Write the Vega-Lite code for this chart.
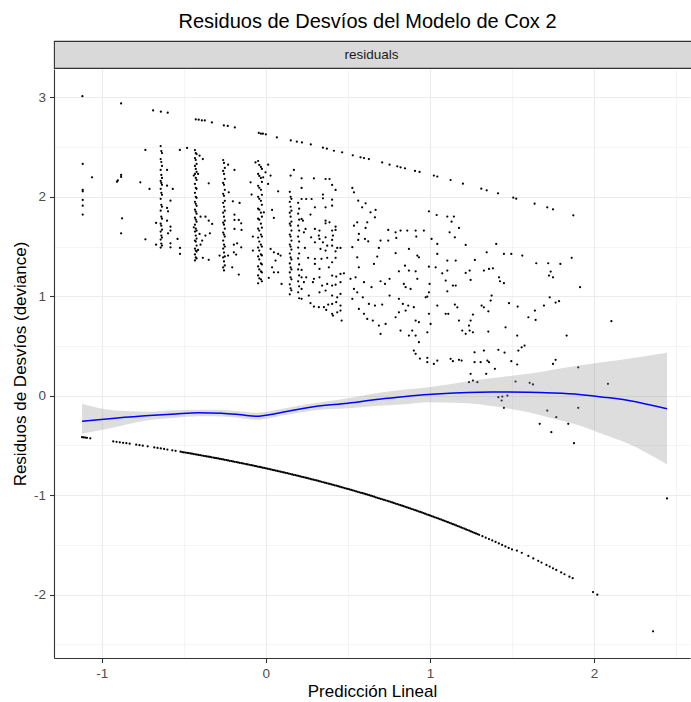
{
  "$schema": "https://vega.github.io/schema/vega-lite/v6.json",
  "padding": {"left": 11, "top": 12, "right": 0, "bottom": 0},
  "title": {"text": "Residuos de Desvíos del Modelo de Cox 2", "fontSize": 20, "fontWeight": "normal", "color": "#000000", "anchor": "middle", "offset": 8, "dx": 15},
  "spacing": 0,
  "datasets": {
    "pts": [
      {"x":-1.118,"y":3.012},{"x":-0.882,"y":2.939},{"x":-0.687,"y":2.869},{"x":-0.640,"y":2.856},{"x":-0.598,"y":2.846},{"x":-0.427,"y":2.778},{"x":-0.409,"y":2.775},{"x":-0.390,"y":2.768},{"x":-0.372,"y":2.768},{"x":-0.329,"y":2.748},{"x":-0.256,"y":2.718},{"x":-0.232,"y":2.712},{"x":-0.189,"y":2.698},{"x":-0.043,"y":2.642},{"x":-0.030,"y":2.635},{"x":-0.018,"y":2.635},{"x":0.0,"y":2.628},{"x":0.067,"y":2.597},{"x":0.152,"y":2.567},{"x":0.189,"y":2.554},{"x":0.220,"y":2.547},{"x":0.274,"y":2.527},{"x":0.348,"y":2.494},{"x":0.372,"y":2.484},{"x":0.415,"y":2.463},{"x":0.465,"y":2.447},{"x":0.530,"y":2.417},{"x":0.577,"y":2.397},{"x":0.598,"y":2.390},{"x":0.628,"y":2.380},{"x":0.709,"y":2.346},{"x":0.754,"y":2.323},{"x":0.801,"y":2.306},{"x":0.821,"y":2.296},{"x":0.848,"y":2.286},{"x":0.909,"y":2.260},{"x":0.937,"y":2.250},{"x":1.024,"y":2.213},{"x":1.045,"y":2.203},{"x":1.126,"y":2.169},{"x":1.201,"y":2.132},{"x":1.313,"y":2.082},{"x":1.346,"y":2.065},{"x":1.415,"y":2.035},{"x":1.508,"y":1.991},{"x":1.526,"y":1.981},{"x":1.638,"y":1.931},{"x":1.715,"y":1.894},{"x":1.750,"y":1.874},{"x":1.874,"y":1.814},
      {"x":-1.116,"y":2.33},{"x":-1.059,"y":2.196},{"x":-1.116,"y":2.069},{"x":-1.116,"y":2.055},{"x":-1.116,"y":1.968},{"x":-1.116,"y":1.911},{"x":-1.116,"y":1.821},
      {"x":-0.907,"y":2.152},{"x":-0.902,"y":2.165},{"x":-0.882,"y":2.22},{"x":-0.882,"y":2.2},{"x":-0.876,"y":1.784},{"x":-0.882,"y":1.633},
      {"x":-0.734,"y":2.471},{"x":-0.765,"y":2.146},{"x":-0.709,"y":2.079},{"x":-0.734,"y":1.573},{"x":-0.669,"y":1.519},{"x":-0.669,"y":1.737},
      {"x":-0.641,"y":2.51},{"x":-0.637,"y":2.46},{"x":-0.633,"y":2.44},{"x":-0.641,"y":2.38},{"x":-0.637,"y":2.35},{"x":-0.633,"y":2.31},{"x":-0.641,"y":2.27},{"x":-0.637,"y":2.22},{"x":-0.633,"y":2.19},{"x":-0.641,"y":2.16},{"x":-0.637,"y":2.14},{"x":-0.633,"y":2.12},{"x":-0.641,"y":2.08},{"x":-0.637,"y":2.04},{"x":-0.633,"y":2.02},{"x":-0.641,"y":1.98},{"x":-0.637,"y":1.92},{"x":-0.633,"y":1.90},{"x":-0.641,"y":1.86},{"x":-0.637,"y":1.80},{"x":-0.633,"y":1.78},{"x":-0.641,"y":1.73},{"x":-0.637,"y":1.71},{"x":-0.633,"y":1.67},{"x":-0.641,"y":1.65},{"x":-0.637,"y":1.61},{"x":-0.633,"y":1.59},{"x":-0.641,"y":1.57},{"x":-0.637,"y":1.53},{"x":-0.633,"y":1.51},{"x":-0.641,"y":1.49},
      {"x":-0.602,"y":2.27},{"x":-0.602,"y":2.112},{"x":-0.581,"y":1.961},{"x":-0.602,"y":1.888},{"x":-0.596,"y":1.854},{"x":-0.602,"y":1.76},{"x":-0.581,"y":1.70},{"x":-0.581,"y":1.66},{"x":-0.596,"y":1.633},{"x":-0.581,"y":1.532},{"x":-0.581,"y":1.492},{"x":-0.567,"y":2.079},{"x":-0.538,"y":1.577},{"x":-0.523,"y":1.486},{"x":-0.523,"y":1.426},{"x":-0.524,"y":2.471},{"x":-0.480,"y":2.491},
      {"x":-0.432,"y":2.47},{"x":-0.427,"y":2.44},{"x":-0.422,"y":2.43},{"x":-0.432,"y":2.39},{"x":-0.427,"y":2.37},{"x":-0.422,"y":2.33},{"x":-0.432,"y":2.31},{"x":-0.427,"y":2.28},{"x":-0.422,"y":2.25},{"x":-0.432,"y":2.23},{"x":-0.427,"y":2.19},{"x":-0.422,"y":2.17},{"x":-0.432,"y":2.13},{"x":-0.427,"y":2.09},{"x":-0.422,"y":2.08},{"x":-0.432,"y":2.04},{"x":-0.427,"y":2.00},{"x":-0.422,"y":1.99},{"x":-0.432,"y":1.95},{"x":-0.427,"y":1.93},{"x":-0.422,"y":1.91},{"x":-0.432,"y":1.87},{"x":-0.427,"y":1.85},{"x":-0.422,"y":1.83},{"x":-0.432,"y":1.79},{"x":-0.427,"y":1.77},{"x":-0.422,"y":1.75},{"x":-0.432,"y":1.72},{"x":-0.427,"y":1.68},{"x":-0.422,"y":1.66},{"x":-0.432,"y":1.65},{"x":-0.427,"y":1.61},{"x":-0.422,"y":1.58},{"x":-0.432,"y":1.56},{"x":-0.427,"y":1.55},{"x":-0.422,"y":1.51},{"x":-0.432,"y":1.48},{"x":-0.427,"y":1.46},{"x":-0.422,"y":1.45},{"x":-0.432,"y":1.42},{"x":-0.427,"y":1.39},{"x":-0.422,"y":1.38},{"x":-0.432,"y":1.36},
      {"x":-0.404,"y":2.414},{"x":-0.384,"y":2.38},{"x":-0.439,"y":2.213},{"x":-0.413,"y":2.23},{"x":-0.439,"y":1.693},{"x":-0.398,"y":1.80},{"x":-0.368,"y":1.80},{"x":-0.348,"y":1.76},{"x":-0.327,"y":1.727},{"x":-0.341,"y":1.633},{"x":-0.368,"y":1.61},{"x":-0.388,"y":1.56},{"x":-0.398,"y":1.519},{"x":-0.413,"y":1.466},{"x":-0.384,"y":1.386},{"x":-0.348,"y":1.366},{"x":-0.348,"y":2.136},{"x":-0.404,"y":1.627},
      {"x":-0.260,"y":2.37},{"x":-0.255,"y":2.34},{"x":-0.250,"y":2.29},{"x":-0.260,"y":2.26},{"x":-0.255,"y":2.23},{"x":-0.250,"y":2.18},{"x":-0.260,"y":2.14},{"x":-0.255,"y":2.12},{"x":-0.250,"y":2.07},{"x":-0.260,"y":2.03},{"x":-0.255,"y":2.01},{"x":-0.250,"y":1.96},{"x":-0.260,"y":1.94},{"x":-0.255,"y":1.90},{"x":-0.250,"y":1.86},{"x":-0.260,"y":1.84},{"x":-0.255,"y":1.80},{"x":-0.250,"y":1.76},{"x":-0.260,"y":1.74},{"x":-0.255,"y":1.72},{"x":-0.250,"y":1.68},{"x":-0.260,"y":1.64},{"x":-0.255,"y":1.62},{"x":-0.250,"y":1.60},{"x":-0.260,"y":1.56},{"x":-0.255,"y":1.52},{"x":-0.250,"y":1.50},{"x":-0.260,"y":1.48},{"x":-0.255,"y":1.44},{"x":-0.250,"y":1.40},{"x":-0.260,"y":1.39},{"x":-0.255,"y":1.35},{"x":-0.250,"y":1.31},{"x":-0.260,"y":1.29},{"x":-0.255,"y":1.26},
      {"x":-0.230,"y":2.323},{"x":-0.191,"y":2.27},{"x":-0.226,"y":2.045},{"x":-0.201,"y":1.955},{"x":-0.160,"y":1.938},{"x":-0.191,"y":1.82},{"x":-0.191,"y":1.767},{"x":-0.191,"y":1.677},{"x":-0.165,"y":1.767},{"x":-0.150,"y":1.733},{"x":-0.148,"y":1.667},{"x":-0.150,"y":1.492},{"x":-0.175,"y":1.532},{"x":-0.195,"y":1.519},{"x":-0.195,"y":1.442},{"x":-0.181,"y":1.419},{"x":-0.205,"y":1.291},{"x":-0.165,"y":1.218},{"x":-0.282,"y":1.409},{"x":-0.230,"y":1.409},
      {"x":-0.047,"y":2.36},{"x":-0.040,"y":2.32},{"x":-0.030,"y":2.30},{"x":-0.024,"y":2.28},{"x":-0.047,"y":2.23},{"x":-0.040,"y":2.21},{"x":-0.030,"y":2.19},{"x":-0.024,"y":2.15},{"x":-0.047,"y":2.11},{"x":-0.040,"y":2.09},{"x":-0.030,"y":2.07},{"x":-0.024,"y":2.02},{"x":-0.047,"y":2.00},{"x":-0.040,"y":1.98},{"x":-0.030,"y":1.96},{"x":-0.024,"y":1.92},{"x":-0.047,"y":1.88},{"x":-0.040,"y":1.87},{"x":-0.030,"y":1.84},{"x":-0.024,"y":1.80},{"x":-0.047,"y":1.78},{"x":-0.040,"y":1.77},{"x":-0.030,"y":1.73},{"x":-0.024,"y":1.69},{"x":-0.047,"y":1.68},{"x":-0.040,"y":1.66},{"x":-0.030,"y":1.62},{"x":-0.024,"y":1.60},{"x":-0.047,"y":1.59},{"x":-0.040,"y":1.55},{"x":-0.030,"y":1.52},{"x":-0.024,"y":1.50},{"x":-0.047,"y":1.49},{"x":-0.040,"y":1.46},{"x":-0.030,"y":1.42},{"x":-0.024,"y":1.41},{"x":-0.047,"y":1.40},{"x":-0.040,"y":1.37},{"x":-0.030,"y":1.33},{"x":-0.024,"y":1.32},{"x":-0.047,"y":1.30},{"x":-0.040,"y":1.27},{"x":-0.030,"y":1.25},{"x":-0.024,"y":1.24},{"x":-0.047,"y":1.21},{"x":-0.040,"y":1.18},{"x":-0.030,"y":1.17},{"x":-0.024,"y":1.15},{"x":-0.047,"y":1.13},
      {"x":-0.063,"y":2.346},{"x":0.014,"y":2.323},{"x":-0.002,"y":2.246},{"x":-0.016,"y":2.196},{"x":0.029,"y":2.213},{"x":0.014,"y":2.129},{"x":-0.093,"y":2.146},{"x":-0.087,"y":2.022},{"x":0.038,"y":1.868},{"x":0.049,"y":1.788},{"x":-0.012,"y":1.844},{"x":0.029,"y":1.476},{"x":0.049,"y":1.442},{"x":0.075,"y":1.426},{"x":0.090,"y":1.409},{"x":0.059,"y":1.359},{"x":0.038,"y":1.291},{"x":0.018,"y":1.185},{"x":0.049,"y":1.241},{"x":0.075,"y":1.241},{"x":0.096,"y":1.124},{"x":-0.079,"y":1.459},{"x":-0.079,"y":1.60},{"x":0.075,"y":2.055},{"x":0.151,"y":2.213},{"x":0.171,"y":2.27},
      {"x":0.146,"y":2.05},{"x":0.151,"y":2.00},{"x":0.156,"y":1.98},{"x":0.146,"y":1.95},{"x":0.151,"y":1.90},{"x":0.156,"y":1.86},{"x":0.146,"y":1.84},{"x":0.151,"y":1.80},{"x":0.156,"y":1.75},{"x":0.146,"y":1.73},{"x":0.151,"y":1.71},{"x":0.156,"y":1.66},{"x":0.146,"y":1.62},{"x":0.151,"y":1.60},{"x":0.156,"y":1.56},{"x":0.146,"y":1.52},{"x":0.151,"y":1.50},{"x":0.156,"y":1.47},{"x":0.146,"y":1.43},{"x":0.151,"y":1.39},{"x":0.156,"y":1.37},{"x":0.146,"y":1.33},{"x":0.151,"y":1.29},{"x":0.156,"y":1.27},{"x":0.146,"y":1.24},{"x":0.151,"y":1.19},{"x":0.156,"y":1.17},{"x":0.146,"y":1.12},{"x":0.151,"y":1.08},{"x":0.156,"y":1.06},{"x":0.146,"y":1.02},
      {"x":0.197,"y":1.94},{"x":0.203,"y":1.88},{"x":0.197,"y":1.83},{"x":0.203,"y":1.77},{"x":0.197,"y":1.71},{"x":0.203,"y":1.66},{"x":0.197,"y":1.60},{"x":0.203,"y":1.55},{"x":0.197,"y":1.49},{"x":0.203,"y":1.43},{"x":0.197,"y":1.38},{"x":0.203,"y":1.32},{"x":0.197,"y":1.27},{"x":0.203,"y":1.21},{"x":0.197,"y":1.15},{"x":0.203,"y":1.10},{"x":0.197,"y":1.04},{"x":0.203,"y":0.98},
      {"x":0.218,"y":2.186},{"x":0.293,"y":2.186},{"x":0.364,"y":2.179},{"x":0.388,"y":2.179},{"x":0.404,"y":2.119},{"x":0.425,"y":2.069},{"x":0.218,"y":2.089},{"x":0.348,"y":2.022},{"x":0.348,"y":1.985},{"x":0.404,"y":1.971},{"x":0.218,"y":1.978},{"x":0.246,"y":1.978},{"x":0.279,"y":1.978},{"x":0.364,"y":1.894},{"x":0.404,"y":1.911},{"x":0.299,"y":1.894},{"x":0.272,"y":1.821},{"x":0.218,"y":1.777},{"x":0.226,"y":1.760},{"x":0.364,"y":1.760},{"x":0.364,"y":1.733},{"x":0.388,"y":1.743},{"x":0.425,"y":1.700},{"x":0.425,"y":1.667},{"x":0.242,"y":1.677},{"x":0.299,"y":1.677},{"x":0.327,"y":1.660},{"x":0.404,"y":1.660},{"x":0.232,"y":1.643},{"x":0.276,"y":1.593},{"x":0.323,"y":1.610},{"x":0.364,"y":1.593},{"x":0.409,"y":1.610},{"x":0.348,"y":1.543},{"x":0.404,"y":1.566},{"x":0.327,"y":1.577},{"x":0.299,"y":1.543},{"x":0.374,"y":1.509},{"x":0.404,"y":1.509},{"x":0.435,"y":1.486},{"x":0.455,"y":1.486},{"x":0.238,"y":1.486},{"x":0.333,"y":1.476},{"x":0.364,"y":1.459},{"x":0.425,"y":1.452},{"x":0.258,"y":1.386},{"x":0.299,"y":1.376},{"x":0.339,"y":1.376},{"x":0.374,"y":1.386},{"x":0.425,"y":1.386},{"x":0.404,"y":1.342},{"x":0.299,"y":1.325},{"x":0.327,"y":1.275},{"x":0.384,"y":1.291},{"x":0.218,"y":1.265},{"x":0.218,"y":1.191},{"x":0.246,"y":1.191},{"x":0.293,"y":1.175},{"x":0.327,"y":1.191},{"x":0.404,"y":1.208},{"x":0.429,"y":1.198},{"x":0.455,"y":1.225},{"x":0.476,"y":1.231},{"x":0.232,"y":1.141},{"x":0.287,"y":1.141},{"x":0.343,"y":1.107},{"x":0.374,"y":1.124},{"x":0.404,"y":1.107},{"x":0.425,"y":1.117},{"x":0.455,"y":1.141},{"x":0.218,"y":1.074},{"x":0.262,"y":1.007},{"x":0.327,"y":1.040},{"x":0.364,"y":1.057},{"x":0.404,"y":1.007},{"x":0.435,"y":0.990},{"x":0.455,"y":1.024},{"x":0.218,"y":0.974},{"x":0.293,"y":0.896},{"x":0.323,"y":0.890},{"x":0.354,"y":0.890},{"x":0.380,"y":0.916},{"x":0.404,"y":0.923},{"x":0.429,"y":0.940},{"x":0.455,"y":0.906},{"x":0.272,"y":0.930},{"x":0.404,"y":0.823},{"x":0.435,"y":0.839},{"x":0.455,"y":0.856},{"x":0.368,"y":0.863},{"x":0.462,"y":0.756},{"x":0.409,"y":0.806},
      {"x":0.527,"y":2.089},{"x":0.537,"y":2.045},{"x":0.563,"y":1.961},{"x":0.587,"y":1.894},{"x":0.608,"y":1.935},{"x":0.638,"y":1.844},{"x":0.669,"y":1.868},{"x":0.665,"y":1.794},{"x":0.557,"y":1.743},{"x":0.618,"y":1.743},{"x":0.608,"y":1.687},{"x":0.537,"y":1.710},{"x":0.567,"y":1.627},{"x":0.604,"y":1.577},{"x":0.624,"y":1.553},{"x":0.563,"y":1.566},{"x":0.527,"y":1.493},{"x":0.699,"y":1.560},{"x":0.746,"y":1.667},{"x":0.746,"y":1.560},{"x":0.791,"y":1.643},{"x":0.821,"y":1.660},{"x":0.862,"y":1.660},{"x":0.913,"y":1.660},{"x":0.963,"y":1.660},{"x":0.795,"y":1.587},{"x":0.917,"y":1.600},{"x":0.872,"y":1.476},{"x":0.923,"y":1.409},{"x":0.933,"y":1.392},{"x":0.791,"y":1.433},{"x":0.689,"y":1.486},{"x":0.679,"y":1.399},{"x":0.659,"y":1.325},{"x":0.557,"y":1.392},{"x":0.567,"y":1.291},{"x":0.547,"y":1.191},{"x":0.516,"y":1.175},{"x":0.598,"y":1.141},{"x":0.644,"y":1.091},{"x":0.699,"y":1.151},{"x":0.726,"y":1.124},{"x":0.754,"y":1.175},{"x":0.811,"y":1.251},{"x":0.848,"y":1.308},{"x":0.872,"y":1.258},{"x":0.913,"y":1.251},{"x":0.841,"y":1.124},{"x":0.852,"y":1.091},{"x":0.882,"y":1.074},{"x":0.923,"y":1.175},{"x":0.537,"y":1.074},{"x":0.557,"y":1.040},{"x":0.591,"y":0.990},{"x":0.628,"y":0.923},{"x":0.665,"y":0.906},{"x":0.709,"y":0.916},{"x":0.754,"y":1.007},{"x":0.811,"y":0.974},{"x":0.835,"y":0.923},{"x":0.868,"y":0.906},{"x":0.902,"y":0.890},{"x":0.527,"y":0.974},{"x":0.567,"y":0.873},{"x":0.598,"y":0.823},{"x":0.618,"y":0.772},{"x":0.652,"y":0.756},{"x":0.689,"y":0.705},{"x":0.730,"y":0.722},{"x":0.699,"y":0.621},{"x":0.791,"y":0.789},{"x":0.811,"y":0.839},{"x":0.852,"y":0.856},{"x":0.913,"y":0.756},{"x":0.933,"y":0.739},{"x":0.892,"y":0.655},{"x":0.821,"y":0.655},{"x":0.872,"y":0.605},{"x":0.913,"y":0.605},{"x":0.933,"y":0.538},{"x":0.902,"y":0.454},{"x":0.913,"y":0.421},{"x":1.004,"y":0.722},{"x":0.984,"y":0.638},{"x":0.994,"y":0.823},{"x":0.974,"y":0.990},
      {"x":0.994,"y":1.854},{"x":1.041,"y":1.817},{"x":1.106,"y":1.801},{"x":1.146,"y":1.801},{"x":1.132,"y":1.750},{"x":1.177,"y":1.687},{"x":1.120,"y":1.643},{"x":1.152,"y":1.593},{"x":1.010,"y":1.576},{"x":1.045,"y":1.526},{"x":1.218,"y":1.516},{"x":1.045,"y":1.426},{"x":1.106,"y":1.359},{"x":1.157,"y":1.359},{"x":1.035,"y":1.291},{"x":0.994,"y":1.298},{"x":1.075,"y":1.231},{"x":1.106,"y":1.258},{"x":1.096,"y":1.158},{"x":1.140,"y":1.107},{"x":1.157,"y":1.107},{"x":1.106,"y":1.050},{"x":0.998,"y":1.124},{"x":0.994,"y":1.040},{"x":0.984,"y":0.997},{"x":1.045,"y":0.906},{"x":1.096,"y":0.823},{"x":1.112,"y":0.823},{"x":1.152,"y":0.916},{"x":1.167,"y":0.889},{"x":1.177,"y":0.756},{"x":1.197,"y":0.655},{"x":1.218,"y":0.622},{"x":1.242,"y":0.655},{"x":1.262,"y":0.638},{"x":1.238,"y":0.705},{"x":1.248,"y":0.756},{"x":1.262,"y":0.816},{"x":1.218,"y":1.235},{"x":1.242,"y":1.258},{"x":1.274,"y":1.365},{"x":1.248,"y":1.164},{"x":1.329,"y":1.258},{"x":1.360,"y":1.275},{"x":1.384,"y":1.281},{"x":1.404,"y":1.526},{"x":1.346,"y":1.442},{"x":1.451,"y":1.426},{"x":1.496,"y":1.426},{"x":1.563,"y":1.409},{"x":1.421,"y":1.191},{"x":1.427,"y":1.151},{"x":1.451,"y":1.131},{"x":1.376,"y":1.007},{"x":1.370,"y":0.957},{"x":1.315,"y":0.906},{"x":1.329,"y":0.889},{"x":1.356,"y":0.849},{"x":1.482,"y":0.930},{"x":1.535,"y":0.896},{"x":1.600,"y":0.789},{"x":1.640,"y":0.856},{"x":1.644,"y":0.762},{"x":1.695,"y":0.906},{"x":1.730,"y":0.990},{"x":1.766,"y":0.937},{"x":1.787,"y":0.950},{"x":1.648,"y":1.332},{"x":1.721,"y":1.332},{"x":1.795,"y":1.325},{"x":1.864,"y":1.386},{"x":1.726,"y":1.208},{"x":1.736,"y":1.248},{"x":1.750,"y":1.191},{"x":1.915,"y":1.091},{"x":1.833,"y":0.605},{"x":1.532,"y":0.605},{"x":1.461,"y":0.688},{"x":1.356,"y":0.645},{"x":1.329,"y":0.454},{"x":1.272,"y":0.437},{"x":1.417,"y":0.461},{"x":1.455,"y":0.434},{"x":1.539,"y":0.454},{"x":1.559,"y":0.487},{"x":1.577,"y":0.504},{"x":1.272,"y":0.337},{"x":1.309,"y":0.337},{"x":1.350,"y":0.354},{"x":1.360,"y":0.337},{"x":1.396,"y":0.270},{"x":1.496,"y":0.347},{"x":1.532,"y":0.314},{"x":1.750,"y":0.320},{"x":1.766,"y":0.361},{"x":1.904,"y":0.286},{"x":1.126,"y":0.371},{"x":1.140,"y":0.347},{"x":1.177,"y":0.361},{"x":1.193,"y":0.354},{"x":1.045,"y":0.354},{"x":1.024,"y":0.320},{"x":0.984,"y":0.381},{"x":0.984,"y":0.337},{"x":0.939,"y":0.374},
      {"x":2.106,"y":0.749},{"x":1.248,"y":0.220},{"x":1.238,"y":0.136},{"x":1.262,"y":0.153},{"x":1.289,"y":0.136},{"x":1.343,"y":0.220},{"x":1.522,"y":0.143},{"x":1.608,"y":0.130},{"x":1.628,"y":0.113},{"x":2.085,"y":0.120},{"x":1.417,"y":-0.015},{"x":1.441,"y":-0.008},{"x":1.437,"y":-0.048},{"x":1.472,"y":0.002},{"x":1.451,"y":-0.122},{"x":1.715,"y":-0.149},{"x":1.770,"y":-0.216},{"x":1.669,"y":-0.283},{"x":1.740,"y":-0.367},{"x":1.843,"y":-0.283},{"x":1.878,"y":-0.477},{"x":1.904,"y":-0.122},{"x":2.445,"y":-1.033},
      {"x":-1.12,"y":-0.417},{"x":-1.11,"y":-0.419},{"x":-1.10,"y":-0.421},{"x":-1.09,"y":-0.423},{"x":-1.07,"y":-0.428},{"x":-0.93,"y":-0.459},{"x":-0.91,"y":-0.463},{"x":-0.89,"y":-0.468},{"x":-0.87,"y":-0.473},{"x":-0.85,"y":-0.477},{"x":-0.83,"y":-0.482},{"x":-0.79,"y":-0.492},{"x":-0.77,"y":-0.497},{"x":-0.75,"y":-0.502},{"x":-0.72,"y":-0.509},{"x":-0.68,"y":-0.520},{"x":-0.66,"y":-0.525},{"x":-0.64,"y":-0.530},{"x":-0.62,"y":-0.535},{"x":-0.60,"y":-0.541},{"x":-0.57,"y":-0.549},{"x":-0.55,"y":-0.554},
      {"x":-0.52,"y":-0.563},{"x":-0.51,"y":-0.566},{"x":-0.50,"y":-0.569},{"x":-0.49,"y":-0.571},{"x":-0.48,"y":-0.574},{"x":-0.47,"y":-0.577},{"x":-0.46,"y":-0.580},{"x":-0.45,"y":-0.583},{"x":-0.44,"y":-0.586},{"x":-0.43,"y":-0.589},{"x":-0.42,"y":-0.592},{"x":-0.41,"y":-0.595},{"x":-0.40,"y":-0.598},{"x":-0.39,"y":-0.601},{"x":-0.38,"y":-0.604},{"x":-0.37,"y":-0.607},{"x":-0.36,"y":-0.610},{"x":-0.35,"y":-0.613},{"x":-0.34,"y":-0.616},{"x":-0.33,"y":-0.619},{"x":-0.32,"y":-0.622},{"x":-0.31,"y":-0.625},{"x":-0.30,"y":-0.628},{"x":-0.29,"y":-0.631},{"x":-0.28,"y":-0.635},{"x":-0.27,"y":-0.638},{"x":-0.26,"y":-0.641},{"x":-0.25,"y":-0.644},{"x":-0.24,"y":-0.647},{"x":-0.23,"y":-0.651},{"x":-0.22,"y":-0.654},{"x":-0.21,"y":-0.657},{"x":-0.20,"y":-0.661},{"x":-0.19,"y":-0.664},{"x":-0.18,"y":-0.667},{"x":-0.17,"y":-0.671},{"x":-0.16,"y":-0.674},{"x":-0.15,"y":-0.677},{"x":-0.14,"y":-0.681},{"x":-0.13,"y":-0.684},{"x":-0.12,"y":-0.688},{"x":-0.11,"y":-0.691},{"x":-0.10,"y":-0.694},{"x":-0.09,"y":-0.698},{"x":-0.08,"y":-0.701},{"x":-0.07,"y":-0.705},{"x":-0.06,"y":-0.708},{"x":-0.05,"y":-0.712},{"x":-0.04,"y":-0.716},{"x":-0.03,"y":-0.719},{"x":-0.02,"y":-0.723},{"x":-0.01,"y":-0.726},{"x":0.00,"y":-0.730},{"x":0.01,"y":-0.734},{"x":0.02,"y":-0.737},{"x":0.03,"y":-0.741},{"x":0.04,"y":-0.745},{"x":0.05,"y":-0.749},{"x":0.06,"y":-0.752},{"x":0.07,"y":-0.756},{"x":0.08,"y":-0.760},{"x":0.09,"y":-0.764},{"x":0.10,"y":-0.767},{"x":0.11,"y":-0.771},{"x":0.12,"y":-0.775},{"x":0.13,"y":-0.779},{"x":0.14,"y":-0.783},{"x":0.15,"y":-0.787},{"x":0.16,"y":-0.791},{"x":0.17,"y":-0.795},{"x":0.18,"y":-0.799},{"x":0.19,"y":-0.803},{"x":0.20,"y":-0.807},{"x":0.21,"y":-0.811},{"x":0.22,"y":-0.815},{"x":0.23,"y":-0.819},{"x":0.24,"y":-0.823},{"x":0.25,"y":-0.827},{"x":0.26,"y":-0.831},{"x":0.27,"y":-0.836},{"x":0.28,"y":-0.840},{"x":0.29,"y":-0.844},{"x":0.30,"y":-0.848},{"x":0.31,"y":-0.852},{"x":0.32,"y":-0.857},{"x":0.33,"y":-0.861},{"x":0.34,"y":-0.865},{"x":0.35,"y":-0.870},{"x":0.36,"y":-0.874},{"x":0.37,"y":-0.878},{"x":0.38,"y":-0.883},{"x":0.39,"y":-0.887},{"x":0.40,"y":-0.892},{"x":0.41,"y":-0.896},{"x":0.42,"y":-0.901},{"x":0.43,"y":-0.905},{"x":0.44,"y":-0.910},{"x":0.45,"y":-0.914},{"x":0.46,"y":-0.919},{"x":0.47,"y":-0.923},{"x":0.48,"y":-0.928},{"x":0.49,"y":-0.933},{"x":0.50,"y":-0.937},{"x":0.51,"y":-0.942},{"x":0.52,"y":-0.947},{"x":0.53,"y":-0.951},{"x":0.54,"y":-0.956},{"x":0.55,"y":-0.961},{"x":0.56,"y":-0.966},{"x":0.57,"y":-0.971},{"x":0.58,"y":-0.976},{"x":0.59,"y":-0.980},{"x":0.60,"y":-0.985},{"x":0.61,"y":-0.990},{"x":0.62,"y":-0.995},{"x":0.63,"y":-1.000},{"x":0.64,"y":-1.005},{"x":0.65,"y":-1.010},{"x":0.66,"y":-1.015},{"x":0.67,"y":-1.021},{"x":0.68,"y":-1.026},{"x":0.69,"y":-1.031},{"x":0.70,"y":-1.036},{"x":0.71,"y":-1.041},{"x":0.72,"y":-1.046},{"x":0.73,"y":-1.052},{"x":0.74,"y":-1.057},{"x":0.75,"y":-1.062},{"x":0.76,"y":-1.067},{"x":0.77,"y":-1.073},{"x":0.78,"y":-1.078},{"x":0.79,"y":-1.084},{"x":0.80,"y":-1.089},{"x":0.81,"y":-1.094},{"x":0.82,"y":-1.100},{"x":0.83,"y":-1.105},{"x":0.84,"y":-1.111},{"x":0.85,"y":-1.117},{"x":0.86,"y":-1.122},{"x":0.87,"y":-1.128},{"x":0.88,"y":-1.133},{"x":0.89,"y":-1.139},{"x":0.90,"y":-1.145},{"x":0.91,"y":-1.151},{"x":0.92,"y":-1.156},{"x":0.93,"y":-1.162},{"x":0.94,"y":-1.168},{"x":0.95,"y":-1.174},{"x":0.96,"y":-1.180},{"x":0.97,"y":-1.186},{"x":0.98,"y":-1.192},{"x":0.99,"y":-1.198},{"x":1.00,"y":-1.204},{"x":1.01,"y":-1.210},{"x":1.02,"y":-1.216},{"x":1.03,"y":-1.222},{"x":1.04,"y":-1.228},{"x":1.05,"y":-1.234},{"x":1.06,"y":-1.240},{"x":1.07,"y":-1.246},{"x":1.08,"y":-1.253},{"x":1.09,"y":-1.259},{"x":1.10,"y":-1.265},{"x":1.11,"y":-1.272},{"x":1.12,"y":-1.278},{"x":1.13,"y":-1.284},{"x":1.14,"y":-1.291},{"x":1.15,"y":-1.297},{"x":1.16,"y":-1.304},{"x":1.17,"y":-1.310},{"x":1.18,"y":-1.317},{"x":1.19,"y":-1.324},{"x":1.20,"y":-1.330},{"x":1.21,"y":-1.337},{"x":1.22,"y":-1.344},{"x":1.23,"y":-1.350},{"x":1.24,"y":-1.357},{"x":1.25,"y":-1.364},{"x":1.26,"y":-1.371},{"x":1.27,"y":-1.378},{"x":1.28,"y":-1.384},{"x":1.29,"y":-1.391},{"x":1.30,"y":-1.398},
      {"x":1.32,"y":-1.412},{"x":1.34,"y":-1.427},{"x":1.36,"y":-1.441},{"x":1.38,"y":-1.455},{"x":1.40,"y":-1.470},{"x":1.42,"y":-1.485},{"x":1.44,"y":-1.500},{"x":1.46,"y":-1.515},{"x":1.48,"y":-1.530},{"x":1.50,"y":-1.545},{"x":1.53,"y":-1.557},{"x":1.56,"y":-1.580},{"x":1.60,"y":-1.611},{"x":1.63,"y":-1.636},{"x":1.66,"y":-1.660},{"x":1.68,"y":-1.677},{"x":1.71,"y":-1.701},{"x":1.73,"y":-1.718},{"x":1.75,"y":-1.735},{"x":1.77,"y":-1.752},{"x":1.80,"y":-1.777},{"x":1.82,"y":-1.795},{"x":1.85,"y":-1.820},{"x":1.87,"y":-1.835},{"x":1.994,"y":-1.974},{"x":2.02,"y":-2.0},{"x":2.36,"y":-2.369}
    ],
    "fit": [
      {"x":-1.12,"fit":-0.256,"lo":-0.383,"hi":-0.081},
      {"x":-0.92,"fit":-0.226,"lo":-0.316,"hi":-0.149},
      {"x":-0.71,"fit":-0.199,"lo":-0.245,"hi":-0.160},
      {"x":-0.55,"fit":-0.183,"lo":-0.222,"hi":-0.147},
      {"x":-0.41,"fit":-0.172,"lo":-0.207,"hi":-0.140},
      {"x":-0.27,"fit":-0.176,"lo":-0.210,"hi":-0.143},
      {"x":-0.15,"fit":-0.192,"lo":-0.226,"hi":-0.158},
      {"x":-0.06,"fit":-0.206,"lo":-0.242,"hi":-0.170},
      {"x":0.02,"fit":-0.192,"lo":-0.226,"hi":-0.158},
      {"x":0.10,"fit":-0.166,"lo":-0.199,"hi":-0.132},
      {"x":0.20,"fit":-0.135,"lo":-0.170,"hi":-0.101},
      {"x":0.30,"fit":-0.109,"lo":-0.145,"hi":-0.074},
      {"x":0.50,"fit":-0.075,"lo":-0.125,"hi":-0.026},
      {"x":0.69,"fit":-0.035,"lo":-0.100,"hi":0.030},
      {"x":0.85,"fit":-0.008,"lo":-0.085,"hi":0.062},
      {"x":0.99,"fit":0.012,"lo":-0.065,"hi":0.085},
      {"x":1.15,"fit":0.027,"lo":-0.070,"hi":0.122},
      {"x":1.30,"fit":0.035,"lo":-0.085,"hi":0.160},
      {"x":1.45,"fit":0.037,"lo":-0.122,"hi":0.192},
      {"x":1.60,"fit":0.035,"lo":-0.166,"hi":0.220},
      {"x":1.75,"fit":0.027,"lo":-0.228,"hi":0.262},
      {"x":1.91,"fit":0.012,"lo":-0.299,"hi":0.303},
      {"x":2.06,"fit":-0.015,"lo":-0.390,"hi":0.338},
      {"x":2.21,"fit":-0.048,"lo":-0.483,"hi":0.371},
      {"x":2.445,"fit":-0.132,"lo":-0.691,"hi":0.431}
    ]
  },
  "vconcat": [
    {
      "width": 639,
      "height": 27,
      "view": {"fill": "#d9d9d9", "stroke": "#333333", "strokeWidth": 1.1},
      "data": {"values": [{"panel": "residuals"}]},
      "mark": {"type": "text", "fontSize": 13.5, "color": "#1a1a1a", "baseline": "middle", "align": "center", "dx": -2},
      "encoding": {"text": {"field": "panel"}}
    },
    {
      "width": 636,
      "height": 589,
      "view": {"stroke": null},
      "layer": [
        {
          "data": {"name": "pts"},
          "mark": {"type": "circle", "size": 5, "color": "#000000", "opacity": 1},
          "encoding": {
            "x": {"field": "x", "type": "quantitative", "title": "Predicción Lineal",
              "scale": {"domain": [-1.291, 2.585], "nice": false, "zero": false},
              "axis": {"values": [-1, -0.5, 0, 0.5, 1, 1.5, 2, 2.5], "labelExpr": "datum.value % 1 === 0 ? '' + datum.value : ''",
                "gridWidth": {"condition": {"test": "datum.value % 1 !== 0", "value": 0.55}, "value": 1.1},
                "tickOpacity": {"condition": {"test": "datum.value % 1 !== 0", "value": 0}, "value": 1},
                "titlePadding": 3}},
            "y": {"field": "y", "type": "quantitative", "title": "Residuos de Desvíos (deviance)",
              "scale": {"domain": [-2.637, 3.285], "nice": false, "zero": false},
              "axis": {"values": [-2.5, -2, -1.5, -1, -0.5, 0, 0.5, 1, 1.5, 2, 2.5, 3], "labelExpr": "datum.value % 1 === 0 ? '' + datum.value : ''",
                "gridWidth": {"condition": {"test": "datum.value % 1 !== 0", "value": 0.55}, "value": 1.1},
                "tickOpacity": {"condition": {"test": "datum.value % 1 !== 0", "value": 0}, "value": 1},
                "titlePadding": 4}}
          }
        },
        {
          "data": {"name": "fit"},
          "mark": {"type": "area", "color": "#999999", "opacity": 0.33, "interpolate": "monotone"},
          "encoding": {
            "x": {"field": "x", "type": "quantitative", "title": "Predicción Lineal"},
            "y": {"field": "lo", "type": "quantitative", "title": "Residuos de Desvíos (deviance)"},
            "y2": {"field": "hi"}
          }
        },
        {
          "data": {"name": "fit"},
          "mark": {"type": "line", "color": "#0000ff", "strokeWidth": 1.5, "interpolate": "monotone"},
          "encoding": {
            "x": {"field": "x", "type": "quantitative", "title": "Predicción Lineal"},
            "y": {"field": "fit", "type": "quantitative", "title": "Residuos de Desvíos (deviance)"}
          }
        },
        {
          "mark": {"type": "rule", "color": "#ff0000", "strokeWidth": 0.6, "strokeDash": [2.5, 2.5]},
          "encoding": {"y": {"datum": 0}}
        }
      ]
    }
  ],
  "config": {
    "font": "Liberation Sans",
    "view": {"stroke": null},
    "axis": {
      "labelFont": "Liberation Sans",
      "labelFontSize": 13.5,
      "labelColor": "#4d4d4d",
      "labelOverlap": false,
      "labelFlush": false,
      "tickColor": "#333333",
      "tickSize": 4.5,
      "tickWidth": 1.1,
      "labelPadding": 4,
      "domainColor": "#333333",
      "domainWidth": 1.1,
      "gridColor": "#ebebeb",
      "titleFont": "Liberation Sans",
      "titleFontSize": 17,
      "titleFontWeight": "normal",
      "titleColor": "#000000"
    }
  }
}
